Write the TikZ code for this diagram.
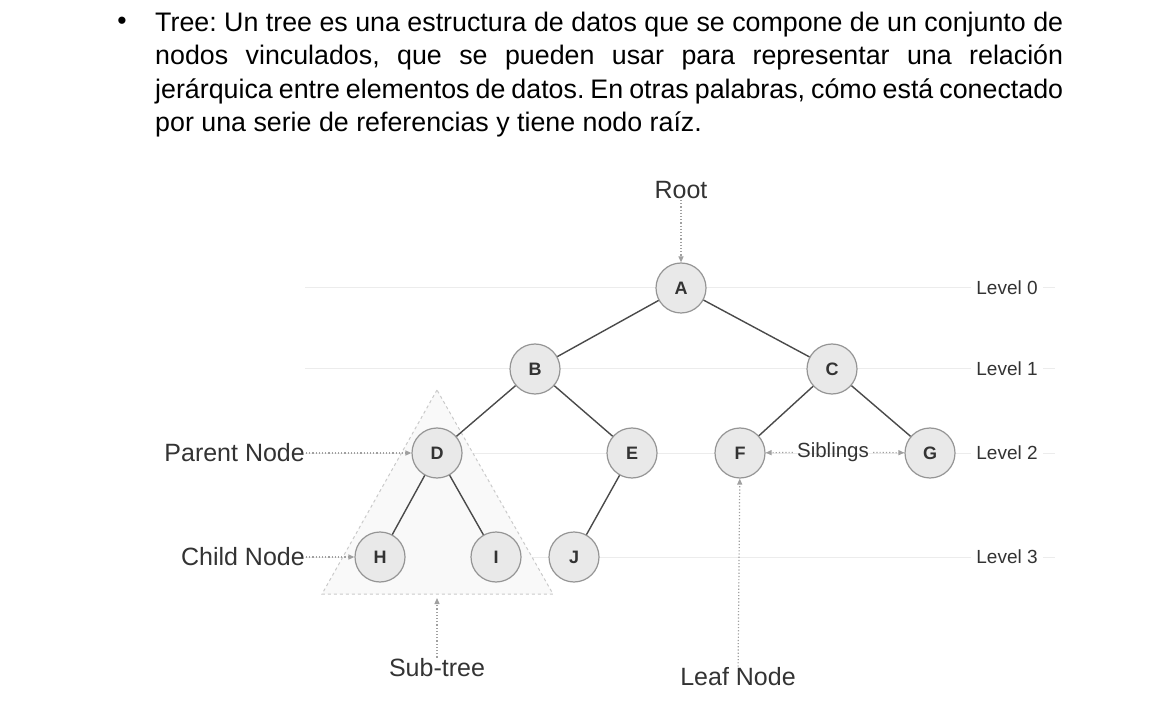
\documentclass[tikz,border=0pt]{standalone}
\usepackage{fontspec}
\setmainfont{Liberation Sans}
\usetikzlibrary{positioning,arrows.meta}
\definecolor{treeInk}{HTML}{333333}
\definecolor{treeEdge}{HTML}{4A4A4A}
\definecolor{treeRing}{HTML}{959595}
\definecolor{treeFill}{HTML}{E9E9E9}
\definecolor{treeDot}{HTML}{A0A0A0}
\definecolor{treeRule}{HTML}{ECECEC}
\definecolor{treeShade}{HTML}{F9F9F9}
\newcommand{\px}[1]{\fontsize{#1}{#1}\selectfont}

\begin{document}
\frenchspacing
\begin{tikzpicture}[x=1pt, y=1pt,
      v/.style={circle, draw=treeRing, fill=treeFill, line width=1.2pt,
        minimum size=50pt, inner sep=0pt, font=\px{18}\bfseries, text=treeInk},
      e/.style={color=treeEdge, line width=1.4pt},
      a/.style={-{Triangle[length=6pt, width=5pt]}, dotted, color=treeDot, line width=1.2pt},
      lvl/.style={font=\px{19}, text=treeInk, fill=white, inner sep=5pt},
      rule/.style={color=treeRule, line width=1pt},
      lbl/.style={font=\px{25}, text=treeInk, inner sep=1pt}]
    \useasboundingbox (0,0) rectangle (1150,718);
    % intro paragraph
    \node[font=\px{26.5}, anchor=base] (dot) at (122,688) {\textbullet};
    \node[font=\fontsize{26.8}{33.3}\selectfont, anchor=north west, inner sep=0pt,
      text width=908pt, align=justify] (txt) at (155,706)
      {Tree: Un tree es una estructura de datos que se compone de un conjunto de\linebreak
       nodos vinculados, que se pueden usar para representar una relación\linebreak
       jerárquica entre elementos de datos. En otras palabras, cómo está conectado\linebreak
       por una serie de referencias y tiene nodo raíz.};
    % level rules
    \coordinate (r0a) at (305,430); \coordinate (r0b) at (1055,430);
    \coordinate (r1a) at (305,349); \coordinate (r1b) at (1055,349);
    \coordinate (r2a) at (305,265); \coordinate (r2b) at (1055,265);
    \coordinate (r3a) at (305,161); \coordinate (r3b) at (1055,161);
    \draw[rule] (r0a) -- (r0b);
    \draw[rule] (r1a) -- (r1b);
    \draw[rule] (r2a) -- (r2b);
    \draw[rule] (r3a) -- (r3b);
    \node[lvl] (lv0) at (1007,430) {Level 0};
    \node[lvl] (lv1) at (1007,349) {Level 1};
    \node[lvl] (lv2) at (1007,265) {Level 2};
    \node[lvl] (lv3) at (1007,161) {Level 3};
    % sub-tree triangle
    \coordinate (t1) at (437,328);
    \coordinate (t2) at (322,124);
    \coordinate (t3) at (553,124);
    \draw[dashed, draw=treeRing!50, fill=treeShade, line width=1pt] (t1) -- (t2) -- (t3) -- cycle;
    % tree nodes
    \node[v] (A) at (681,430) {A};
    \node[v] (B) at (535,349) {B};
    \node[v] (C) at (832,349) {C};
    \node[v] (D) at (437,265) {D};
    \node[v] (E) at (632,265) {E};
    \node[v] (F) at (740,265) {F};
    \node[v] (G) at (930,265) {G};
    \node[v] (H) at (380,161) {H};
    \node[v] (I) at (496,161) {I};
    \node[v] (J) at (574,161) {J};
    \draw[e] (A) -- (B); \draw[e] (A) -- (C);
    \draw[e] (B) -- (D); \draw[e] (B) -- (E);
    \draw[e] (C) -- (F); \draw[e] (C) -- (G);
    \draw[e] (D) -- (H); \draw[e] (D) -- (I);
    \draw[e] (E) -- (J);
    % call-outs
    \node[lbl] (root) at (681,528) {Root};
    \draw[a] (root) -- (A);
    \node[lbl, anchor=east] (par) at (306,265) {Parent Node};
    \draw[a] (par) -- (D);
    \node[lbl, anchor=east] (chd) at (306,161) {Child Node};
    \draw[a] (chd) -- (H);
    \node[font=\px{20.5}, text=treeInk, inner sep=4pt] (sib) at (833,266) {Siblings};
    \draw[a] (sib) -- (F); \draw[a] (sib) -- (G);
    \node[lbl] (leaf) at (738,41) {Leaf Node};
    \draw[a] (leaf) -- (F);
    \node[lbl] (sub) at (437,50) {Sub-tree};
    \coordinate (subtip) at (437,120);
    \draw[a] (sub) -- (subtip);
  \end{tikzpicture}
\end{document}
